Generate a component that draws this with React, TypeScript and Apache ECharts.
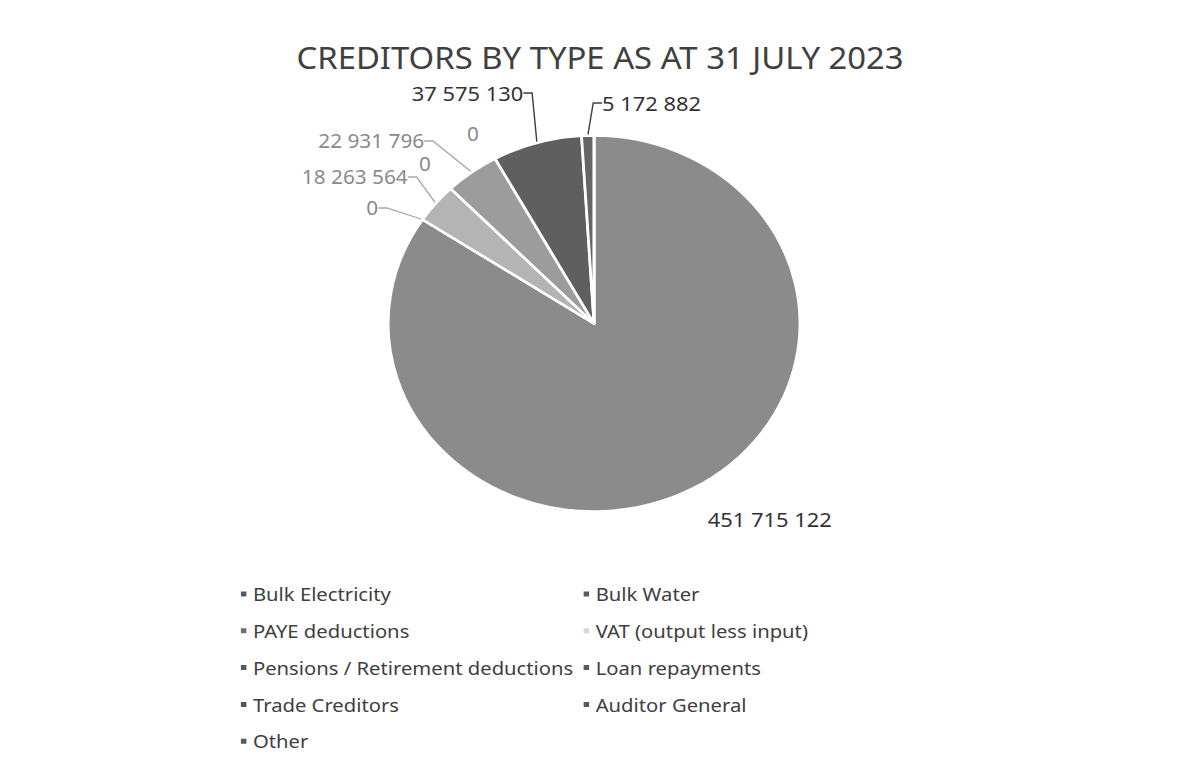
import React, { useEffect, useRef } from 'react';
import * as echarts from 'echarts';

const categories = [
  'Bulk Electricity',
  'Bulk Water',
  'PAYE deductions',
  'VAT (output less input)',
  'Pensions / Retirement deductions',
  'Loan repayments',
  'Trade Creditors',
  'Auditor General',
  'Other',
];
const values = [451715122, 0, 18263564, 0, 22931796, 0, 37575130, 5172882, 0];
const legendColumnA = ['Bulk Electricity', 'PAYE deductions', 'Pensions / Retirement deductions', 'Trade Creditors', 'Other'];
const legendColumnB = ['Bulk Water', 'VAT (output less input)', 'Loan repayments', 'Auditor General'];

// styling (not data)
const SX = 1.095; // horizontal stretch of the scanned original
const sliceColors = ['#8b8b8b', '#7a7a7a', '#b4b4b4', '#e2e2e2', '#9c9c9c', '#8a8a8a', '#5f5f5f', '#666666', '#707070'];
const markerColors = ['#5a5a5a', '#5a5a5a', '#6e6e6e', '#d8d8d8', '#5a5a5a', '#5a5a5a', '#555555', '#5a5a5a', '#5a5a5a'];
const labelDark = [true, false, false, false, false, false, true, true, false];
const labelShown = [true, true, true, true, true, true, true, true, false];
const lineShown = [false, true, true, false, true, false, true, true, false];
// label anchor spots (chart coordinates) reproducing the original's best-fit placement
const labelSpots: [number, number][] = [
  [703, 519],
  [340, 208],
  [324, 177],
  [388, 164],
  [339, 141],
  [432, 134],
  [427, 93],
  [595, 103],
  [560, 110],
];

const FONT = '"Noto Sans", "Open Sans", sans-serif';

function fmt(v: number) {
  return String(v).replace(/\B(?=(\d{3})+(?!\d))/g, ' ');
}

export default function App() {
  const ref = useRef<HTMLDivElement>(null);
  useEffect(() => {
    if (!ref.current) return;
    const chart = echarts.init(ref.current, undefined, { renderer: 'svg' });
    const legendBase = {
      orient: 'vertical',
      icon: 'rect',
      itemWidth: 7,
      itemHeight: 7,
      itemGap: 16.8,
      top: 579,
      selectedMode: false,
      textStyle: { fontFamily: FONT, fontSize: 18.5, color: '#404040', lineHeight: 20 },
    };
    chart.setOption({
      animation: false,
      backgroundColor: '#ffffff',
      title: {
        text: 'CREDITORS BY TYPE AS AT 31 JULY 2023',
        left: 543,
        top: 37,
        textAlign: 'center',
        textStyle: { fontFamily: FONT, fontSize: 30, fontWeight: 'normal', color: '#404040' },
      },
      legend: [
        {
          ...legendBase,
          left: 213,
          data: legendColumnA.map((n) => ({ name: n, itemStyle: { color: markerColors[categories.indexOf(n)] } })),
        },
        {
          ...legendBase,
          left: 526,
          data: legendColumnB.map((n) => ({ name: n, itemStyle: { color: markerColors[categories.indexOf(n)] } })),
        },
      ],
      series: [
        {
          type: 'pie',
          center: [542.5, 323.5],
          radius: 188,
          startAngle: 90,
          clockwise: true,
          minAngle: 0,
          avoidLabelOverlap: false,
          itemStyle: { borderColor: '#ffffff', borderWidth: 2.5 },
          label: {
            show: true,
            position: 'outside',
            fontFamily: FONT,
            fontSize: 19,
            formatter: (p: any) => fmt(p.value),
          },
          labelLine: { show: true, length: 8, length2: 8, lineStyle: { width: 1.3 } },
          labelLayout: (p: any) => {
            const s = labelSpots[p.dataIndex];
            return { x: s[0], y: s[1], align: 'center', verticalAlign: 'middle' };
          },
          emphasis: { disabled: true },
          data: categories.map((name, i) => ({
            name,
            value: values[i],
            itemStyle: { color: sliceColors[i] },
            label: {
              show: labelShown[i],
              color: labelDark[i] ? '#333333' : '#8a8a8a',
              fontSize: labelDark[i] ? 20 : 19,
            },
            labelLine: {
              show: lineShown[i],
              lineStyle: { color: labelDark[i] ? '#404040' : '#a8a8a8' },
            },
          })),
        },
      ],
    });
    return () => chart.dispose();
  }, []);
  return (
    <div
      style={{
        position: 'absolute',
        left: 0,
        top: 0,
        width: 1178,
        height: 784,
        overflow: 'hidden',
        background: '#ffffff',
      }}
    >
      <div
        style={{
          position: 'absolute',
          left: 3,
          top: 8,
          width: 1172,
          height: 800,
          border: '1px solid #ececec',
          boxSizing: 'border-box',
        }}
      />
      <div
        ref={ref}
        style={{
          position: 'absolute',
          left: 0,
          top: 0,
          width: Math.round(1178 / SX),
          height: 784,
          transform: `scaleX(${SX})`,
          transformOrigin: '0 0',
        }}
      />
    </div>
  );
}
